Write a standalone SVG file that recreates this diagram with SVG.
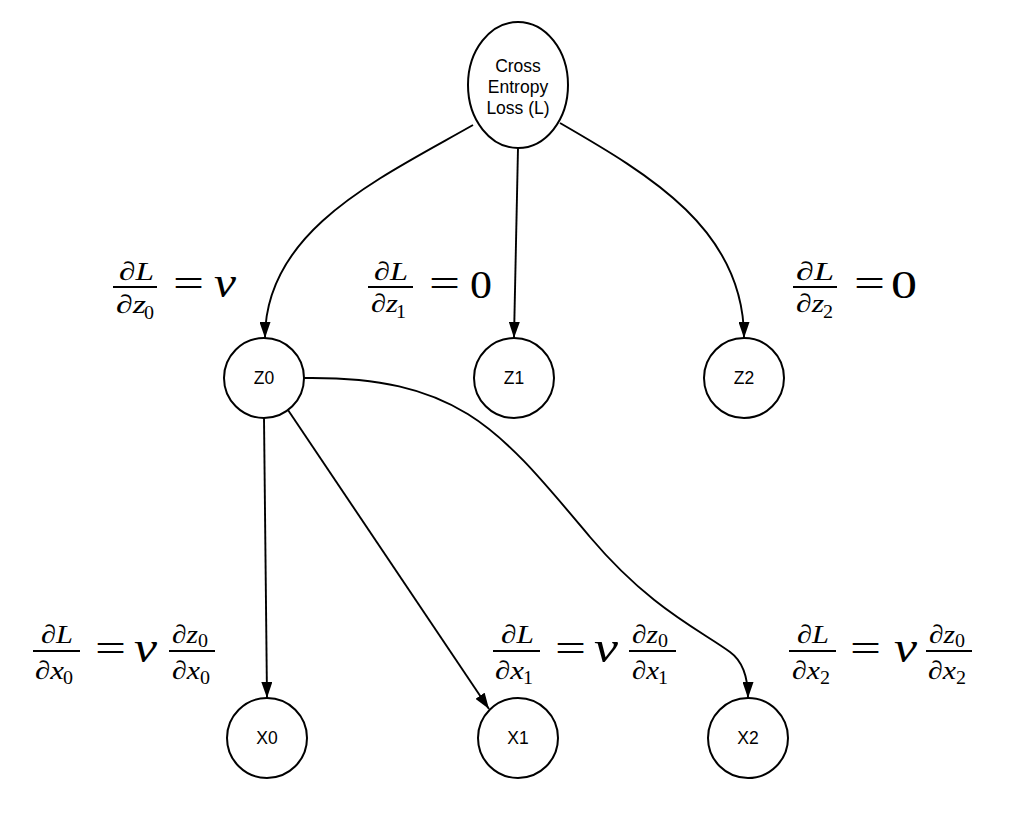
<svg xmlns="http://www.w3.org/2000/svg" width="1022" height="816" viewBox="0 0 1022 816">
<defs>
<style>
.node{fill:#fff;stroke:#000;stroke-width:2}
.lbl{font-family:"Liberation Sans",Arial,sans-serif;font-size:17.5px;fill:#000;text-anchor:middle}
.edge{fill:none;stroke:#000;stroke-width:1.9;marker-end:url(#arr)}
.m{font-family:"Liberation Serif","Times New Roman",serif;font-style:italic;font-size:26px;fill:#000}
.s{font-family:"Liberation Serif","Times New Roman",serif;font-size:18px;fill:#000}
.r{font-family:"Liberation Serif","Times New Roman",serif;font-size:41px;fill:#000}
.v{font-family:"Liberation Serif","Times New Roman",serif;font-style:italic;font-size:44px;fill:#000}
.bar{stroke:#000;stroke-width:2}
</style>
<marker id="arr" viewBox="0 0 16 11" refX="16" refY="5.5" markerWidth="16" markerHeight="11" markerUnits="userSpaceOnUse" orient="auto">
<path d="M0,0 L16,5.5 L0,11 z" fill="#000"/>
</marker>
</defs>
<rect width="1022" height="816" fill="#fff"/>

<g id="connectors">
<path class="edge" d="M473,125 C380,178 265,230 265,338"/>
<path class="edge" d="M518,148 L514,338"/>
<path class="edge" d="M560,123 C650,175 744,230 744,338"/>
<path class="edge" d="M264,418 L267,698"/>
<path class="edge" d="M288,410 L489,709"/>
<path class="edge" d="M304,378 C460,376 500,430 590,537 C650,608 700,630 730,652 Q748,665 748,698"/>
</g>

<g id="loss">
<ellipse class="node" cx="518" cy="85" rx="50" ry="63"/>
<text class="lbl" x="518" y="72">Cross</text>
<text class="lbl" x="518" y="93">Entropy</text>
<text class="lbl" x="518" y="114">Loss (L)</text>
</g>
<g id="z0"><circle class="node" cx="264" cy="378" r="40"/><text class="lbl" x="264" y="384">Z0</text></g>
<g id="z1"><circle class="node" cx="514" cy="378" r="40"/><text class="lbl" x="514" y="384">Z1</text></g>
<g id="z2"><circle class="node" cx="744" cy="378" r="40"/><text class="lbl" x="744" y="384">Z2</text></g>
<g id="x0"><circle class="node" cx="267" cy="738" r="40"/><text class="lbl" x="267" y="744">X0</text></g>
<g id="x1"><circle class="node" cx="518" cy="738" r="40"/><text class="lbl" x="518" y="744">X1</text></g>
<g id="x2"><circle class="node" cx="748" cy="738" r="40"/><text class="lbl" x="748" y="744">X2</text></g>

<g id="eq-z0">
<text class="m" x="119" y="280" textLength="35" lengthAdjust="spacingAndGlyphs">∂L</text>
<line class="bar" x1="113" y1="287" x2="157" y2="287"/>
<text class="m" x="116" y="313" textLength="30" lengthAdjust="spacingAndGlyphs">∂z</text>
<text class="s" x="144" y="319" textLength="10" lengthAdjust="spacingAndGlyphs">0</text>
<text class="r" x="173" y="297" textLength="31" lengthAdjust="spacingAndGlyphs">=</text>
<text class="v" x="214" y="297" textLength="22" lengthAdjust="spacingAndGlyphs">v</text>
</g>
<g id="eq-z1">
<text class="m" x="374" y="280" textLength="34" lengthAdjust="spacingAndGlyphs">∂L</text>
<line class="bar" x1="368" y1="287" x2="413" y2="287"/>
<text class="m" x="371" y="312" textLength="27" lengthAdjust="spacingAndGlyphs">∂z</text>
<text class="s" x="396" y="318" textLength="10" lengthAdjust="spacingAndGlyphs">1</text>
<text class="r" x="429" y="297" textLength="31" lengthAdjust="spacingAndGlyphs">=</text>
<text class="r" x="470" y="298" textLength="22" lengthAdjust="spacingAndGlyphs">0</text>
</g>
<g id="eq-z2">
<text class="m" x="796" y="280" textLength="38" lengthAdjust="spacingAndGlyphs">∂L</text>
<line class="bar" x1="793" y1="287" x2="837" y2="287"/>
<text class="m" x="796" y="312" textLength="28" lengthAdjust="spacingAndGlyphs">∂z</text>
<text class="s" x="823" y="318" textLength="10" lengthAdjust="spacingAndGlyphs">2</text>
<text class="r" x="854" y="297" textLength="31" lengthAdjust="spacingAndGlyphs">=</text>
<text class="r" x="891" y="298" textLength="26" lengthAdjust="spacingAndGlyphs">0</text>
</g>
<g id="eq-x0">
<text class="m" x="41" y="643" textLength="32" lengthAdjust="spacingAndGlyphs">∂L</text>
<line class="bar" x1="33" y1="651" x2="80" y2="651"/>
<text class="m" x="35" y="679" textLength="29" lengthAdjust="spacingAndGlyphs">∂x</text>
<text class="s" x="63" y="684" textLength="10" lengthAdjust="spacingAndGlyphs">0</text>
<text class="r" x="95" y="662" textLength="31" lengthAdjust="spacingAndGlyphs">=</text>
<text class="v" x="134" y="662" textLength="23" lengthAdjust="spacingAndGlyphs">v</text>
<text class="m" x="172" y="643" textLength="26" lengthAdjust="spacingAndGlyphs">∂z</text>
<text class="s" x="198" y="647" textLength="10" lengthAdjust="spacingAndGlyphs">0</text>
<line class="bar" x1="169" y1="651" x2="215" y2="651"/>
<text class="m" x="172" y="679" textLength="28" lengthAdjust="spacingAndGlyphs">∂x</text>
<text class="s" x="200" y="684" textLength="10" lengthAdjust="spacingAndGlyphs">0</text>
</g>
<g id="eq-x1">
<text class="m" x="501" y="643" textLength="33" lengthAdjust="spacingAndGlyphs">∂L</text>
<line class="bar" x1="493" y1="651" x2="540" y2="651"/>
<text class="m" x="495" y="679" textLength="29" lengthAdjust="spacingAndGlyphs">∂x</text>
<text class="s" x="523" y="684" textLength="10" lengthAdjust="spacingAndGlyphs">1</text>
<text class="r" x="555" y="662" textLength="31" lengthAdjust="spacingAndGlyphs">=</text>
<text class="v" x="594" y="662" textLength="24" lengthAdjust="spacingAndGlyphs">v</text>
<text class="m" x="632" y="643" textLength="26" lengthAdjust="spacingAndGlyphs">∂z</text>
<text class="s" x="658" y="647" textLength="10" lengthAdjust="spacingAndGlyphs">0</text>
<line class="bar" x1="629" y1="651" x2="676" y2="651"/>
<text class="m" x="632" y="679" textLength="27" lengthAdjust="spacingAndGlyphs">∂x</text>
<text class="s" x="658" y="684" textLength="10" lengthAdjust="spacingAndGlyphs">1</text>
</g>
<g id="eq-x2">
<text class="m" x="797" y="643" textLength="32" lengthAdjust="spacingAndGlyphs">∂L</text>
<line class="bar" x1="789" y1="651" x2="836" y2="651"/>
<text class="m" x="792" y="679" textLength="28" lengthAdjust="spacingAndGlyphs">∂x</text>
<text class="s" x="820" y="684" textLength="10" lengthAdjust="spacingAndGlyphs">2</text>
<text class="r" x="850" y="662" textLength="31" lengthAdjust="spacingAndGlyphs">=</text>
<text class="v" x="894" y="662" textLength="23" lengthAdjust="spacingAndGlyphs">v</text>
<text class="m" x="929" y="643" textLength="26" lengthAdjust="spacingAndGlyphs">∂z</text>
<text class="s" x="955" y="647" textLength="10" lengthAdjust="spacingAndGlyphs">0</text>
<line class="bar" x1="926" y1="651" x2="972" y2="651"/>
<text class="m" x="928" y="679" textLength="28" lengthAdjust="spacingAndGlyphs">∂x</text>
<text class="s" x="956" y="684" textLength="10" lengthAdjust="spacingAndGlyphs">2</text>
</g>
</svg>
